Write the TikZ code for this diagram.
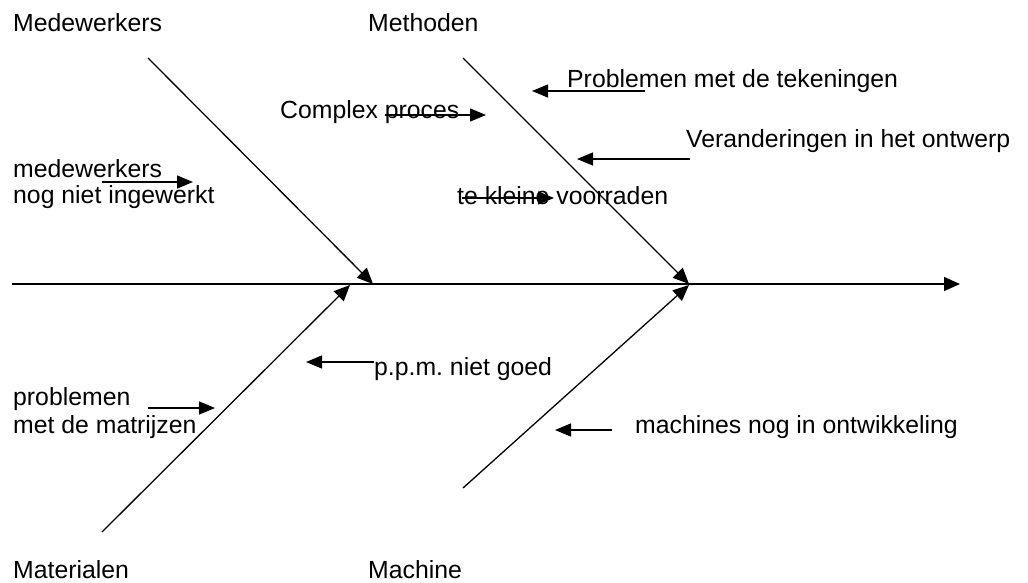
\documentclass[tikz,border=0pt]{standalone}
\usepackage{fontspec}
\setmainfont{Liberation Sans}
\usetikzlibrary{arrows.meta}
\frenchspacing
\begin{document}
\begin{tikzpicture}[x=1pt,y=-1pt,
  lbl/.style={anchor=base west,inner sep=0pt,font=\fontsize{24.8}{28}\selectfont},
  arr/.style={line width=1.3pt,-{Triangle[length=16pt,width=13pt]}},
  bone/.style={line width=1.3pt,-{Triangle[length=16pt,width=14pt]}}]
\useasboundingbox (0,0) rectangle (1028,582);
% coordinates
\coordinate (s0) at (12,284);
\coordinate (s1) at (960,284);
\coordinate (b1a) at (148,58);  \coordinate (b1b) at (373,284);
\coordinate (b2a) at (463,58);  \coordinate (b2b) at (689,284);
\coordinate (b3a) at (102,532); \coordinate (b3b) at (350,285);
\coordinate (b4a) at (463,488); \coordinate (b4b) at (689,285);
% spine and bones
\draw[bone] (s0) -- (s1);
\draw[bone] (b1a) -- (b1b);
\draw[bone] (b2a) -- (b2b);
\draw[bone] (b3a) -- (b3b);
\draw[bone] (b4a) -- (b4b);
% category labels
\node[lbl] (medew) at (13,31) {Medewerkers};
\node[lbl] (meth) at (368,31) {Methoden};
\node[lbl] (mater) at (13,578) {Materialen};
\node[lbl] (mach) at (368,578) {Machine};
% causes
\node[lbl] (teken) at (567,87) {Problemen met de tekeningen};
\node[lbl] (compl) at (280,118) {Complex proces};
\node[lbl] (veran) at (686,147) {Veranderingen in het ontwerp};
\node[lbl] (mw1) at (13,177) {medewerkers};
\node[lbl] (mw2) at (13,203) {nog niet ingewerkt};
\node[lbl] (klein) at (457,204) {te kleine voorraden};
\node[lbl] (ppm) at (374,375) {p.p.m. niet goed};
\node[lbl] (mt1) at (13,405) {problemen};
\node[lbl] (mt2) at (13,433) {met de matrijzen};
\node[lbl] (machs) at (635,433) {machines nog in ontwikkeling};
% small arrows
\coordinate (a1s) at (645,91);  \coordinate (a1e) at (532,91);
\coordinate (a2s) at (385,115); \coordinate (a2e) at (486,115);
\coordinate (a3s) at (690,159); \coordinate (a3e) at (577,159);
\coordinate (a4s) at (102,182); \coordinate (a4e) at (193,182);
\coordinate (a5s) at (462,198); \coordinate (a5e) at (554,198);
\coordinate (a6s) at (374,362); \coordinate (a6e) at (306,362);
\coordinate (a7s) at (148,408); \coordinate (a7e) at (215,408);
\coordinate (a8s) at (612,430); \coordinate (a8e) at (555,430);
\draw[arr] (a1s) -- (a1e);
\draw[arr] (a2s) -- (a2e);
\draw[arr] (a3s) -- (a3e);
\draw[arr] (a4s) -- (a4e);
\draw[arr] (a5s) -- (a5e);
\draw[arr] (a6s) -- (a6e);
\draw[arr] (a7s) -- (a7e);
\draw[arr] (a8s) -- (a8e);
\end{tikzpicture}
\end{document}
